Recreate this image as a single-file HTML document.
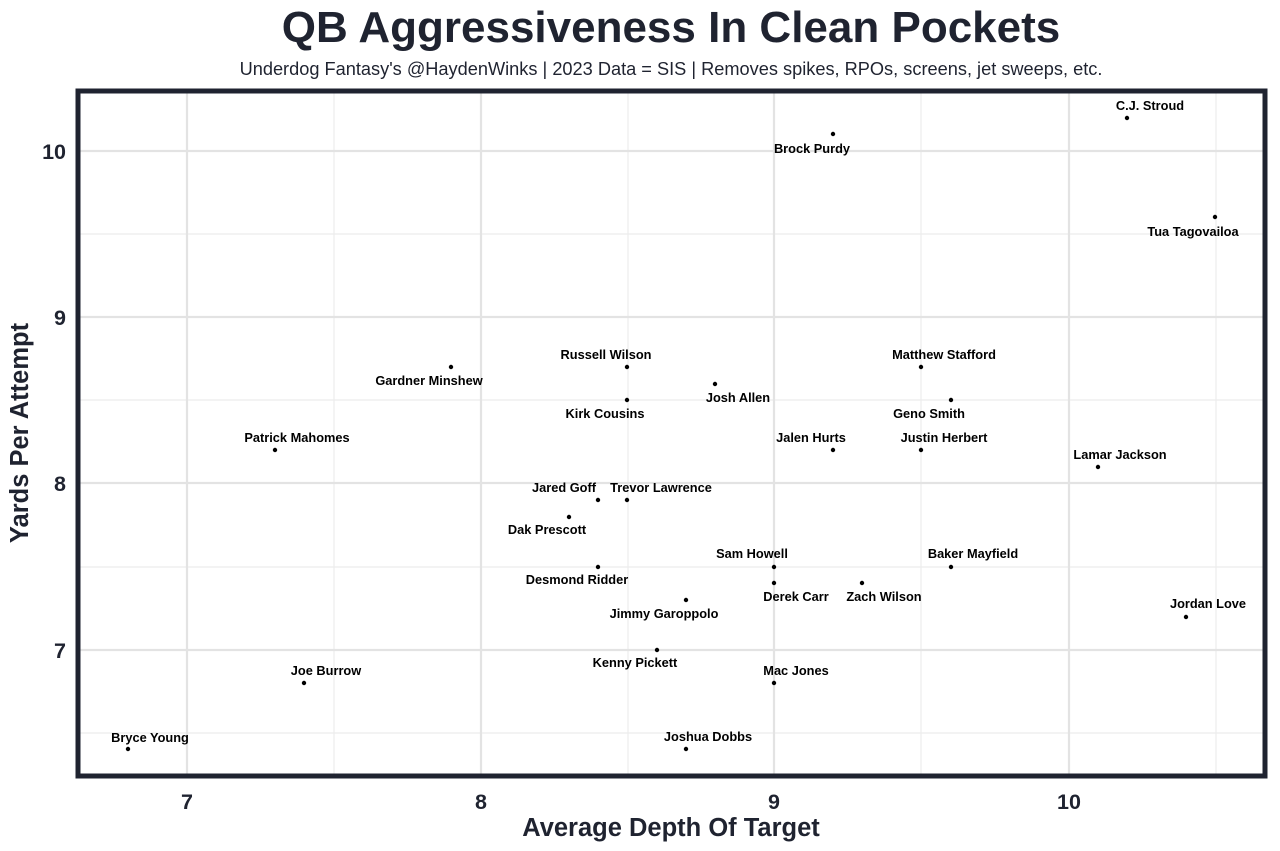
<!DOCTYPE html>
<html><head><meta charset="utf-8"><style>
body{margin:0;background:#fff;}
svg{display:block;font-family:"Liberation Sans",Arial,sans-serif;}
</style></head><body>
<svg width="1280" height="851" viewBox="0 0 1280 851">
<rect width="1280" height="851" fill="#fff"/>
<text x="671" y="42" text-anchor="middle" font-size="44" font-weight="bold" fill="#1f2330">QB Aggressiveness In Clean Pockets</text>
<text x="671" y="75" text-anchor="middle" font-size="18.2" fill="#1f2330">Underdog Fantasy's @HaydenWinks | 2023 Data = SIS | Removes spikes, RPOs, screens, jet sweeps, etc.</text>
<g stroke="#ececec" stroke-width="1.2">
<line x1="334" y1="89" x2="334" y2="778"/><line x1="628" y1="89" x2="628" y2="778"/><line x1="921" y1="89" x2="921" y2="778"/><line x1="1216" y1="89" x2="1216" y2="778"/>
<line x1="76" y1="234" x2="1267" y2="234"/><line x1="76" y1="400" x2="1267" y2="400"/><line x1="76" y1="567" x2="1267" y2="567"/><line x1="76" y1="733" x2="1267" y2="733"/>
</g>
<g stroke="#e3e3e3" stroke-width="2.2">
<line x1="187" y1="89" x2="187" y2="778"/><line x1="481" y1="89" x2="481" y2="778"/><line x1="774" y1="89" x2="774" y2="778"/><line x1="1069" y1="89" x2="1069" y2="778"/>
<line x1="76" y1="151" x2="1267" y2="151"/><line x1="76" y1="317" x2="1267" y2="317"/><line x1="76" y1="483" x2="1267" y2="483"/><line x1="76" y1="650" x2="1267" y2="650"/>
</g>
<rect x="78" y="91" width="1187" height="685" fill="none" stroke="#1f2330" stroke-width="5"/>
<g font-size="21.5" font-weight="bold" fill="#1f2330">
<text x="187" y="809" text-anchor="middle">7</text><text x="481" y="809" text-anchor="middle">8</text><text x="774" y="809" text-anchor="middle">9</text><text x="1069" y="809" text-anchor="middle">10</text>
<text x="66" y="159" text-anchor="end">10</text><text x="66" y="325" text-anchor="end">9</text><text x="66" y="491" text-anchor="end">8</text><text x="66" y="658" text-anchor="end">7</text>
</g>
<text x="671" y="836" text-anchor="middle" font-size="25.5" font-weight="bold" fill="#1f2330">Average Depth Of Target</text>
<text transform="translate(28,433) rotate(-90)" text-anchor="middle" font-size="25.5" font-weight="bold" fill="#1f2330">Yards Per Attempt</text>
<g fill="#000">
<circle cx="1127" cy="118" r="2.2"/><circle cx="833" cy="134" r="2.2"/><circle cx="1215" cy="217" r="2.2"/><circle cx="627" cy="367" r="2.2"/><circle cx="451" cy="367" r="2.2"/><circle cx="921" cy="367" r="2.2"/><circle cx="715" cy="384" r="2.2"/><circle cx="627" cy="400" r="2.2"/><circle cx="951" cy="400" r="2.2"/><circle cx="275" cy="450" r="2.2"/><circle cx="833" cy="450" r="2.2"/><circle cx="921" cy="450" r="2.2"/><circle cx="1098" cy="467" r="2.2"/><circle cx="598" cy="500" r="2.2"/><circle cx="627" cy="500" r="2.2"/><circle cx="569" cy="517" r="2.2"/><circle cx="774" cy="567" r="2.2"/><circle cx="951" cy="567" r="2.2"/><circle cx="598" cy="567" r="2.2"/><circle cx="774" cy="583" r="2.2"/><circle cx="862" cy="583" r="2.2"/><circle cx="686" cy="600" r="2.2"/><circle cx="1186" cy="617" r="2.2"/><circle cx="657" cy="650" r="2.2"/><circle cx="304" cy="683" r="2.2"/><circle cx="774" cy="683" r="2.2"/><circle cx="686" cy="749" r="2.2"/><circle cx="128" cy="749" r="2.2"/>
</g>
<g font-size="12.8" font-weight="bold" fill="#000" text-anchor="middle">
<text x="1150" y="110">C.J. Stroud</text><text x="812" y="153">Brock Purdy</text><text x="1193" y="236">Tua Tagovailoa</text><text x="606" y="359">Russell Wilson</text><text x="429" y="385">Gardner Minshew</text><text x="944" y="359">Matthew Stafford</text><text x="738" y="402">Josh Allen</text><text x="605" y="418">Kirk Cousins</text><text x="929" y="418">Geno Smith</text><text x="297" y="442">Patrick Mahomes</text><text x="811" y="442">Jalen Hurts</text><text x="944" y="442">Justin Herbert</text><text x="1120" y="459">Lamar Jackson</text><text x="564" y="492">Jared Goff</text><text x="661" y="492">Trevor Lawrence</text><text x="547" y="534">Dak Prescott</text><text x="752" y="558">Sam Howell</text><text x="973" y="558">Baker Mayfield</text><text x="577" y="584">Desmond Ridder</text><text x="796" y="601">Derek Carr</text><text x="884" y="601">Zach Wilson</text><text x="664" y="618">Jimmy Garoppolo</text><text x="1208" y="608">Jordan Love</text><text x="635" y="667">Kenny Pickett</text><text x="326" y="675">Joe Burrow</text><text x="796" y="675">Mac Jones</text><text x="708" y="741">Joshua Dobbs</text><text x="150" y="742">Bryce Young</text>
</g>
</svg>
</body></html>
